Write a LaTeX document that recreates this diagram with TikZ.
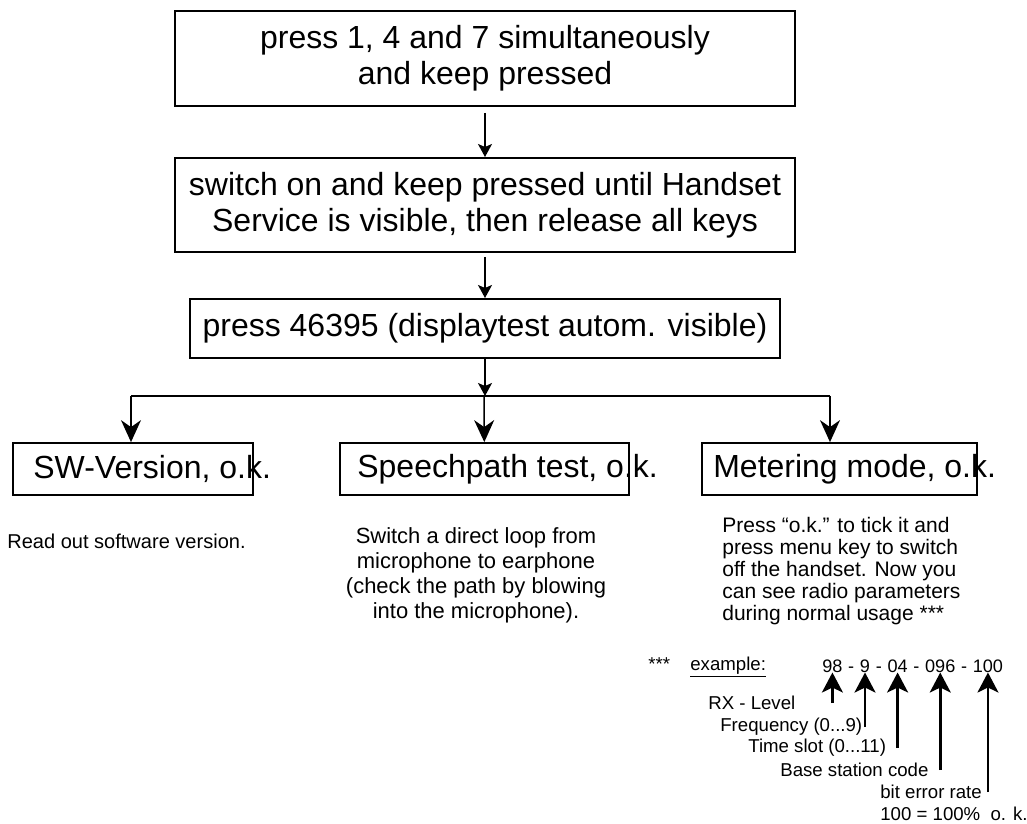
\documentclass[tikz,border=0pt]{standalone}
\usepackage{fontspec}
\setmainfont{Liberation Sans}
\usetikzlibrary{arrows.meta}

\begin{document}
\begin{tikzpicture}[x=0.2mm, y=-0.2mm,
    big/.style={font=\fontsize{18.2}{20.5}\selectfont},
    small/.style={font=\fontsize{11.4}{12.5}\selectfont},
    tiny/.style={font=\fontsize{10.6}{12.5}\selectfont},
    digits/.style={font=\fontsize{10.3}{12.5}\selectfont},
    main box/.style={draw, line width=0.4mm, inner sep=0pt, align=center, big},
    test box/.style={draw, line width=0.35mm, inner sep=0pt, minimum height=10.4mm},
    flow/.style={line width=0.3mm, -{Stealth[length=2.6mm, width=2.8mm, inset=0.6mm]}},
    branch/.style={line width=0.3mm, -{Stealth[length=4.4mm, width=4mm, inset=1.4mm]}},
    pointer/.style={line width=0.5mm, -{Stealth[length=4mm, width=4.2mm, inset=1mm]}}]

    \useasboundingbox (0,0) rectangle (1027,824);

    \node[main box, minimum width=124mm, minimum height=19mm] (keys box) at (485,58.5)
        {press 1, 4 and 7 simultaneously\\and keep pressed};
    \node[main box, minimum width=124mm, minimum height=18.8mm] (power box) at (485,205)
        {switch on and keep pressed until Handset\\Service is visible, then release all keys};
    \node[main box, minimum width=118mm, minimum height=11.8mm] (code box) at (485,328.5)
        {press 46395 (displaytest autom. visible)};

    \coordinate (split)       at (485,396);
    \coordinate (split left)  at (131,396);
    \coordinate (split mid)   at (484,396);
    \coordinate (split right) at (830,396);

    \node[test box, minimum width=48mm]   (sw box)     at (133,469)   {};
    \node[test box, minimum width=57.8mm] (speech box) at (484.5,469) {};
    \node[test box, minimum width=55mm]   (meter box)  at (839.5,469) {};

    \node[big, anchor=west, inner sep=0pt] (sw)     at (33,469)  {SW-Version, o.k.};
    \node[big, anchor=west, inner sep=0pt] (speech) at (357,469) {Speechpath test, o.k.};
    \node[big, anchor=west, inner sep=0pt] (meter)  at (713,469) {Metering mode, o.k.};

    \draw[flow, shorten <=1.2mm] (keys box) -- (power box);
    \draw[flow, shorten <=0.8mm] (power box) -- (code box);
    \draw[flow] (code box) -- (split);
    \draw[line width=0.3mm] (split left) -- (split right);
    \draw[branch] (split left)  -- (split left |- sw box.north);
    \draw[branch] (split mid)   -- (speech box);
    \draw[branch] (split right) -- (split right |- meter box.north);

    \node[small, anchor=west, inner sep=0pt] (sw note) at (7,541) {Read out software version.};
    \node[font=\fontsize{12.5}{14.2}\selectfont, align=center, inner sep=0pt] (speech note) at (476,575.5)
        {Switch a direct loop from\\microphone to earphone\\(check the path by blowing\\into the microphone).};
    \node[font=\fontsize{11.95}{12.5}\selectfont, align=left, anchor=west, inner sep=0pt] (meter note) at (722,571)
        {Press “o.k.” to tick it and\\press menu key to switch\\off the handset. Now you\\can see radio parameters\\during normal usage ***};

    \node[tiny, anchor=west, inner sep=0pt] (stars)   at (648,664) {***};
    \node[tiny, anchor=west, inner sep=0pt] (example) at (690,667) {\underline{example:}};

    \node[digits, anchor=base west, inner sep=0pt] (n98) at (822,672) {98};
    \foreach \val/\prev in {9/98, 04/9, 096/04, 100/096} {
        \node[digits, anchor=base west, inner sep=0pt] (dash \val) at (n\prev.base east) {\ -\ \hbox{}};
        \node[digits, anchor=base west, inner sep=0pt] (n\val) at (dash \val.base east) {\val};
    }

    \node[tiny, anchor=west, inner sep=0pt] (rx)   at (708,703) {RX - Level};
    \node[tiny, anchor=west, inner sep=0pt] (freq) at (720,727) {Frequency (0...9)};
    \node[tiny, anchor=west, inner sep=0pt] (slot) at (748,748) {Time slot (0...11)};
    \node[tiny, anchor=west, inner sep=0pt] (base) at (780,770) {Base station code};
    \node[tiny, anchor=west, inner sep=0pt] (ber)  at (880,792) {bit error rate};
    \node[tiny, anchor=west, inner sep=0pt] (rate) at (880,814) {100 = 100\%\ \ o. k.};

    \draw[pointer] (rx.east -| n98)    -- (n98.south);
    \draw[pointer] (freq.east -| n9)   -- (n9.south);
    \draw[pointer] (slot.east -| n04)  -- (n04.south);
    \draw[pointer] (base.east -| n096) -- (n096.south);
    \draw[pointer] (ber.east -| n100)  -- (n100.south);
\end{tikzpicture}
\end{document}
